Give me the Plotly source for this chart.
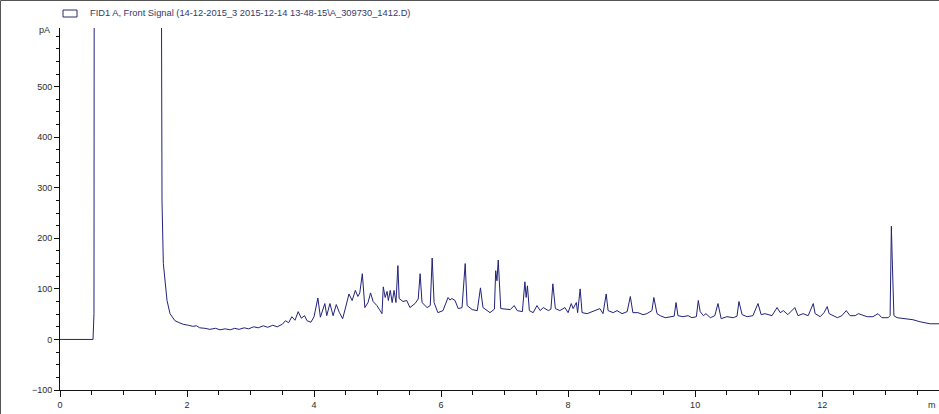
import plotly.graph_objects as go

# Retention time (min) and detector signal (pA)
time_min = [
    0.00, 0.52, 0.535, 0.545, 1.57, 1.595, 1.606, 1.627, 1.654, 1.685, 1.732, 1.81, 1.88, 1.94,
    2.02, 2.09, 2.15, 2.2, 2.28, 2.36, 2.45, 2.52, 2.6, 2.68, 2.75, 2.82, 2.9, 2.97, 3.05,
    3.12, 3.2, 3.27, 3.35, 3.42, 3.5, 3.55, 3.6, 3.65, 3.7, 3.75, 3.8, 3.85, 3.89, 3.95,
    4.0, 4.06, 4.1, 4.17, 4.2, 4.25, 4.3, 4.35, 4.4, 4.45, 4.49, 4.55, 4.6, 4.65, 4.69,
    4.72, 4.76, 4.80, 4.85, 4.89, 4.93, 4.99, 5.04, 5.07, 5.09, 5.12, 5.15, 5.17, 5.20,
    5.23, 5.26, 5.29, 5.32, 5.34, 5.40, 5.46, 5.51, 5.59, 5.64, 5.67, 5.70, 5.78, 5.83,
    5.86, 5.89, 5.95, 6.03, 6.11, 6.14, 6.17, 6.22, 6.27, 6.33, 6.38, 6.41, 6.49, 6.57,
    6.62, 6.66, 6.77, 6.84, 6.86, 6.88, 6.90, 6.94, 7.04, 7.09, 7.15, 7.20, 7.28, 7.32,
    7.34, 7.36, 7.39, 7.45, 7.51, 7.56, 7.61, 7.69, 7.73, 7.76, 7.80, 7.87, 7.95, 8.00,
    8.05, 8.08, 8.13, 8.15, 8.19, 8.22, 8.30, 8.39, 8.50, 8.55, 8.60, 8.63, 8.71, 8.77,
    8.85, 8.93, 8.98, 9.02, 9.10, 9.18, 9.24, 9.32, 9.35, 9.40, 9.45, 9.53, 9.61, 9.67,
    9.70, 9.73, 9.81, 9.89, 9.95, 10.02, 10.05, 10.08, 10.13, 10.17, 10.24, 10.31, 10.36,
    10.41, 10.50, 10.60, 10.66, 10.69, 10.74, 10.82, 10.91, 10.99, 11.04, 11.10, 11.21,
    11.29, 11.34, 11.39, 11.46, 11.57, 11.62, 11.70, 11.78, 11.86, 11.89, 11.97, 12.03,
    12.08, 12.11, 12.17, 12.24, 12.31, 12.38, 12.44, 12.52, 12.57, 12.63, 12.71, 12.80,
    12.88, 12.94, 13.04, 13.07, 13.08, 13.09, 13.10, 13.12, 13.13, 13.18, 13.34, 13.43,
    13.54, 13.70, 13.84,
]
signal_pA = [
    0, 0, 51, 2000, 2000, 600, 274, 150, 110, 77, 51, 37, 33, 30,
    28, 26, 27, 23, 22, 20, 22, 19, 21, 19, 22, 20, 23, 21, 25,
    23, 27, 24, 28, 25, 30, 37, 33, 45, 38, 55, 42, 47, 37, 34,
    45, 82, 44, 71, 47, 71, 47, 69, 53, 41, 60, 90, 77, 97, 85,
    92, 130, 63, 73, 92, 75, 67, 57, 51, 104, 83, 95, 77, 97,
    73, 97, 73, 146, 81, 75, 77, 63, 71, 80, 130, 73, 63, 67,
    161, 73, 53, 57, 83, 78, 81, 77, 61, 63, 150, 67, 59, 57,
    102, 63, 53, 60, 136, 116, 157, 61, 59, 59, 67, 57, 55, 114,
    83, 106, 57, 53, 67, 57, 63, 57, 60, 110, 61, 57, 63, 53,
    71, 61, 73, 53, 100, 53, 51, 55, 61, 51, 90, 57, 53, 57,
    51, 55, 85, 53, 53, 49, 51, 57, 83, 51, 47, 43, 45, 46,
    73, 47, 45, 47, 43, 45, 77, 55, 47, 51, 43, 47, 71,
    41, 45, 43, 46, 75, 49, 45, 47, 71, 49, 51, 47,
    63, 53, 57, 49, 63, 47, 51, 47, 71, 51, 45, 53,
    65, 51, 47, 43, 47, 57, 47, 47, 51, 49, 45, 45,
    51, 43, 43, 47, 175, 224, 175, 50, 47, 43, 41, 39,
    35, 31, 31,
]

x_tick_vals = [0, 2, 4, 6, 8, 10, 12]
y_tick_vals = [-100, 0, 100, 200, 300, 400, 500]
legend_label = "FID1 A, Front Signal (14-12-2015_3 2015-12-14 13-48-15\\A_309730_1412.D)"

W, H = 939, 414
ML, MR, MT, MB = 60, 0, 28, 24
FONT = "Liberation Sans, Arial, sans-serif"

fig = go.Figure()
fig.add_trace(go.Scatter(
    x=time_min, y=signal_pA, mode="lines",
    line=dict(color="#22227a", width=1),
    showlegend=False, hoverinfo="skip",
))

pw = W - ML - MR
ph = H - MT - MB

def px_x(p):
    return (p - ML) / pw

def px_y(p):
    return (H - MB - p) / ph

fig.update_layout(
    width=W, height=H,
    margin=dict(l=ML, r=MR, t=MT, b=MB, pad=0),
    paper_bgcolor="white", plot_bgcolor="white",
    font=dict(family=FONT, size=9, color="#2b2b2b"),
    xaxis=dict(
        range=[0, 13.84], showgrid=False, zeroline=False,
        showline=True, linecolor="#111111", linewidth=1,
        tickmode="array", tickvals=x_tick_vals,
        ticks="outside", ticklen=6, tickcolor="#111111", tickwidth=1,
        minor=dict(dtick=0.5, ticks="outside", ticklen=4, tickcolor="#111111"),
        tickfont=dict(family=FONT, size=9, color="#2b2b2b"),
        fixedrange=True,
    ),
    yaxis=dict(
        range=[-100, 616], showgrid=False, zeroline=False,
        showline=True, linecolor="#111111", linewidth=1,
        tickmode="array", tickvals=y_tick_vals,
        ticks="outside", ticklen=5, tickcolor="#111111", tickwidth=1,
        minor=dict(dtick=25, ticks="outside", ticklen=3, tickcolor="#111111"),
        tickfont=dict(family=FONT, size=9, color="#2b2b2b"),
        fixedrange=True,
    ),
)

# legend swatch and label
fig.add_shape(type="rect", xref="paper", yref="paper",
              x0=px_x(63), x1=px_x(77), y0=px_y(17), y1=px_y(10),
              line=dict(color="#2a2a6a", width=1), fillcolor="white")
fig.add_annotation(xref="paper", yref="paper", x=px_x(88), y=px_y(13.5),
                   text=legend_label, showarrow=False, xanchor="left", yanchor="middle",
                   font=dict(family=FONT, size=9.3, color="#34386a"))
# unit labels
fig.add_annotation(xref="paper", yref="paper", x=px_x(52), y=px_y(30),
                   text="pA", showarrow=False, xanchor="right", yanchor="middle",
                   font=dict(family=FONT, size=9, color="#2b2b2b"))
fig.add_annotation(xref="paper", yref="paper", x=px_x(938), y=px_y(405),
                   text="m", showarrow=False, xanchor="right", yanchor="middle",
                   font=dict(family=FONT, size=9, color="#2b2b2b"))
# outer frame (top and left edges)
fig.add_shape(type="line", xref="paper", yref="paper",
              x0=px_x(0.5), x1=px_x(939), y0=px_y(0.5), y1=px_y(0.5),
              line=dict(color="#555555", width=1))
fig.add_shape(type="line", xref="paper", yref="paper",
              x0=px_x(0.5), x1=px_x(0.5), y0=px_y(0.5), y1=px_y(414),
              line=dict(color="#555555", width=1))

fig.write_html("out.html", config={"displayModeBar": False},
               post_script="document.body.style.margin='0';document.body.style.overflow='hidden';")
